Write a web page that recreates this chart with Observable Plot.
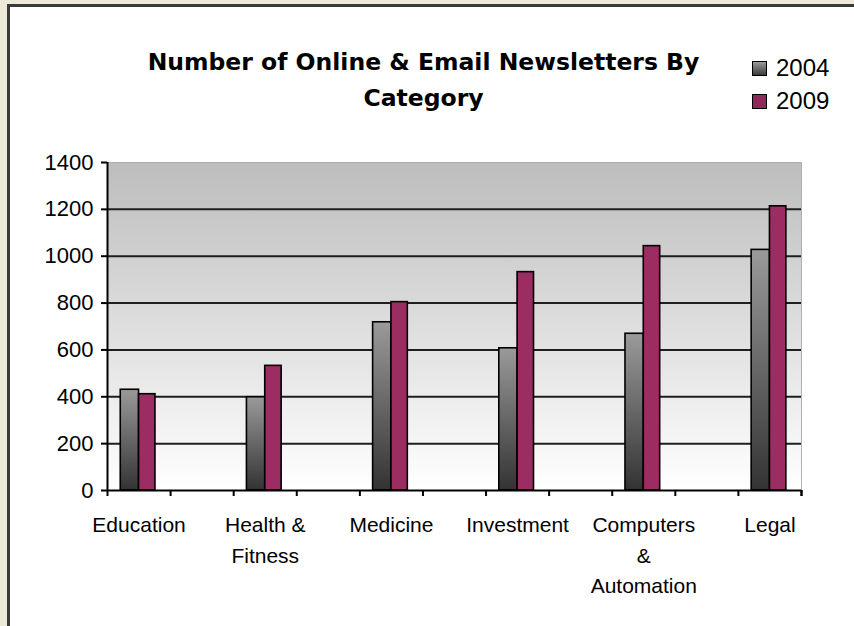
<!DOCTYPE html>
<html>
<head>
<meta charset="utf-8">
<script src="https://cdn.jsdelivr.net/npm/d3@7"></script>
<script src="https://cdn.jsdelivr.net/npm/@observablehq/plot@0.6"></script>
<style>
  html, body { margin: 0; padding: 0; width: 854px; height: 626px; overflow: hidden; background: #ece9d8; }
  #card { position: absolute; left: 7px; top: 4px; right: -10px; bottom: -10px; background: #fff;
          border-left: 3px solid #3a3a3a; border-top: 3px solid #3a3a3a; }
  #title { position: absolute; left: 0; width: 847px; top: 44px; text-align: center;
           font-family: "DejaVu Sans", Verdana, sans-serif; font-weight: bold; font-size: 23.5px; line-height: 36px; color: #000; }
  .leg { position: absolute; left: 752px; font-family: "Liberation Sans", Arial, sans-serif; font-size: 24px; color: #000; height: 26px; line-height: 26px; }
  .leg span.sw { position: absolute; left: 0; top: 6px; width: 13px; height: 13px; border: 1px solid #000; }
  .leg span.tx { position: absolute; left: 24px; top: 0; }
  #chart { position: absolute; left: 0; top: 130px; }
</style>
</head>
<body>
<div id="card"></div>
<div id="title">Number of Online &amp; Email Newsletters By<br>Category</div>
<div class="leg" style="top:55px"><span class="sw" style="background:linear-gradient(#9a9a9a,#3c3c3c)"></span><span class="tx" id="l0"></span></div>
<div class="leg" style="top:88px"><span class="sw" style="background:#8e2a5a"></span><span class="tx" id="l1"></span></div>
<div id="chart"></div>
<script>
const categories = ["Education", "Health & Fitness", "Medicine", "Investment", "Computers & Automation", "Legal"];
const tickLabels = ["Education", "Health &\nFitness", "Medicine", "Investment", "Computers\n&\nAutomation", "Legal"];
const years = ["2004", "2009"];
const values2004 = [430, 398, 718, 607, 669, 1027];
const values2009 = [411, 532, 804, 932, 1043, 1213];
const yTicks = [0, 200, 400, 600, 800, 1000, 1200, 1400];

document.getElementById("l0").textContent = years[0];
document.getElementById("l1").textContent = years[1];

// each category occupies one slot, separated by an empty slot
const cats = categories.map((c, i) => ({category: c, label: tickLabels[i], slot: 2 * i}));
const rows2004 = cats.map((c, i) => ({...c, year: years[0], value: values2004[i]}));
const rows2009 = cats.map((c, i) => ({...c, year: years[1], value: values2009[i]}));
const boundaries = d3.range(0, 2 * categories.length);

const svg = Plot.plot({
  width: 854,
  height: 496,
  marginLeft: 107,
  marginRight: 53,
  marginTop: 32,
  marginBottom: 136,
  style: {background: "transparent", fontFamily: "'Liberation Sans', Arial, sans-serif", color: "#000"},
  x: {type: "linear", domain: [0, 2 * categories.length - 1], axis: null},
  y: {domain: [0, 1400], axis: null},
  marks: [
    Plot.frame({fill: "url(#bgGrad)", stroke: "#b0b0b0"}),
    Plot.ruleY(yTicks.filter(d => d > 0 && d < 1400), {stroke: "#1e1e1e", strokeWidth: 2}),
    Plot.rectY(rows2004, {x1: d => d.slot + 0.21, x2: d => d.slot + 0.5, y: "value", fill: "url(#grad2004)", stroke: "#000", strokeWidth: 1.6}),
    Plot.rectY(rows2009, {x1: d => d.slot + 0.5, x2: d => d.slot + 0.76, y: "value", fill: "#9b2d62", stroke: "#000", strokeWidth: 1.6}),
    Plot.ruleY([0], {stroke: "#000", strokeWidth: 2}),
    Plot.ruleX([0], {stroke: "#000", strokeWidth: 2}),
    Plot.axisY({ticks: yTicks, tickSize: 6, tickPadding: 8, fontSize: 22, tickFormat: d => String(d), stroke: "#000", strokeWidth: 2, label: null}),
    Plot.axisX({ticks: boundaries.concat([2 * categories.length - 1]), tickSize: 6, tickFormat: () => "", stroke: "#000", strokeWidth: 2, label: null}),
    Plot.text(cats, {x: d => d.slot + 0.5, y: () => 0, text: "label", dy: 20, lineAnchor: "top", lineHeight: 1.45, fontSize: 21, fill: "#000"})
  ]
});

d3.select(svg).insert("defs", ":first-child").html(`
  <linearGradient id="bgGrad" x1="0" y1="0" x2="0" y2="1">
    <stop offset="0" stop-color="#bdbdbd"/>
    <stop offset="1" stop-color="#ffffff"/>
  </linearGradient>
  <linearGradient id="grad2004" x1="0" y1="0" x2="0" y2="1">
    <stop offset="0" stop-color="#9a9a9a"/>
    <stop offset="1" stop-color="#333333"/>
  </linearGradient>
`);
document.getElementById("chart").appendChild(svg);
</script>
</body>
</html>
